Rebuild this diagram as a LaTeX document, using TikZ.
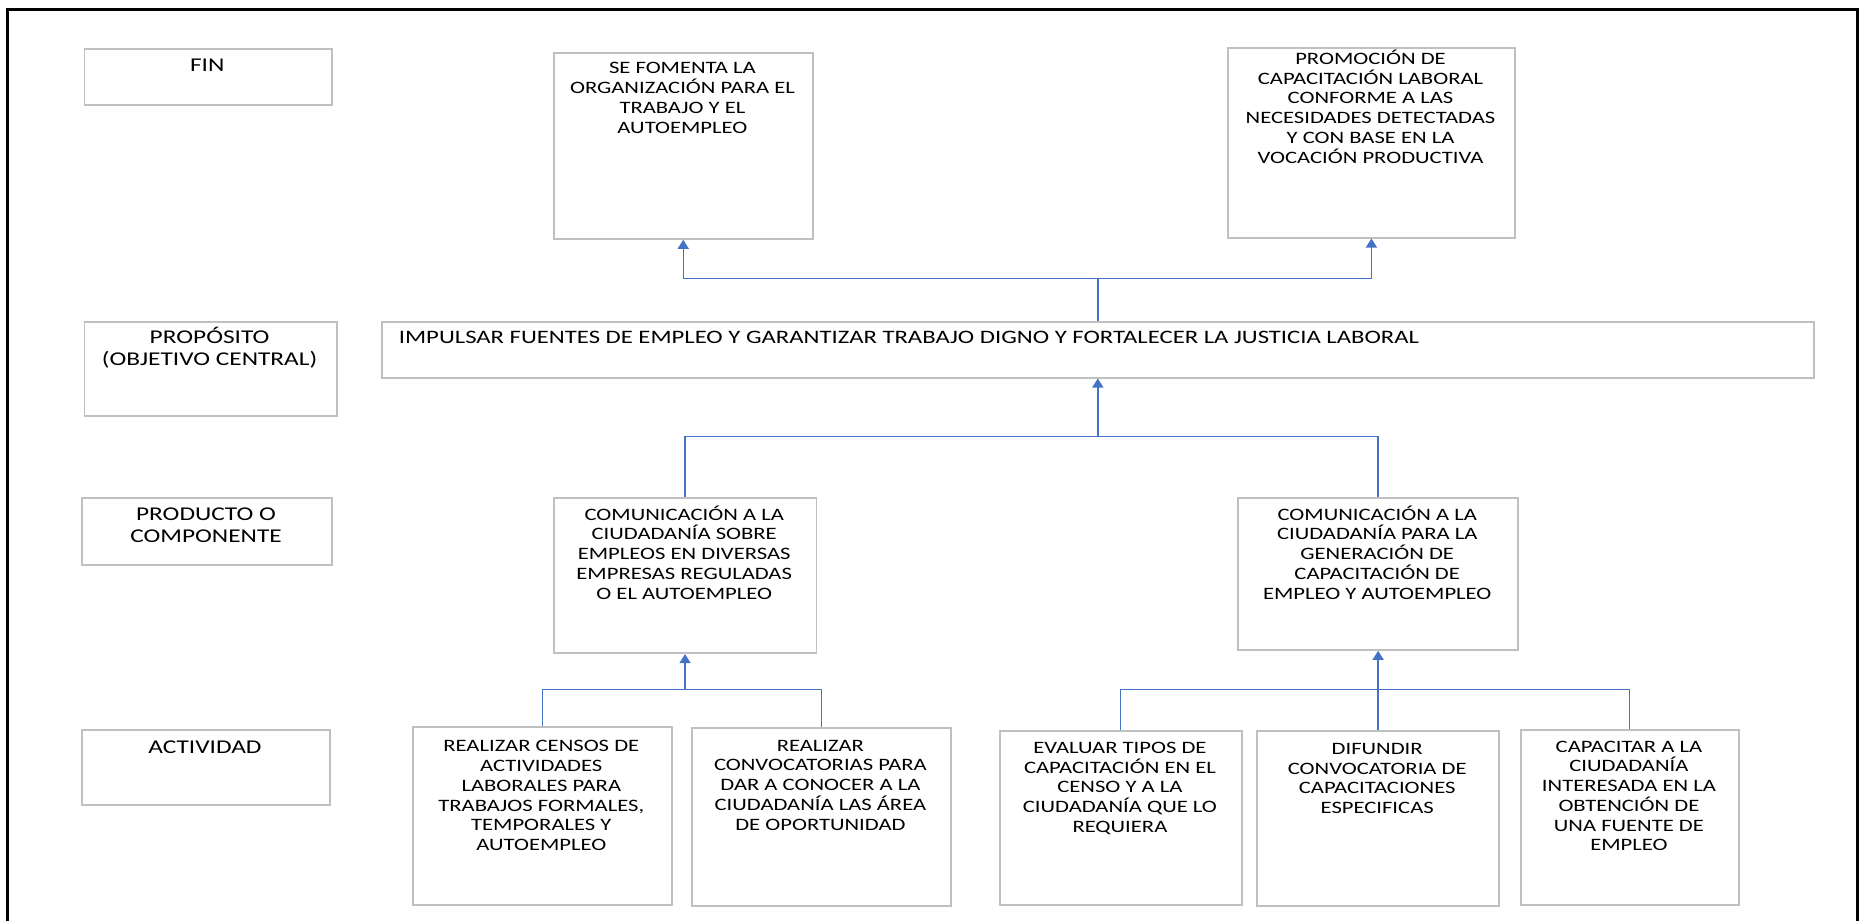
\documentclass[tikz,border=0pt]{standalone}
\usepackage{fontspec}
\setmainfont[FakeStretch=1.3]{Carlito}
\usetikzlibrary{arrows.meta}
\definecolor{boxgray}{RGB}{192,192,192}
\definecolor{connblue}{RGB}{68,114,196}
\newcommand{\fl}{\rule{0pt}{1em}}
\begin{document}
\begin{tikzpicture}[x=1pt,y=-1pt,
  box/.style={draw=boxgray, line width=1.8pt, fill=white, anchor=north west, inner sep=0pt},
  txt/.style={anchor=north, inner sep=0pt, align=center, font=\fontsize{17.4}{19.7}\selectfont},
  lab/.style={anchor=north, inner sep=0pt, align=center, font=\fontsize{19.5}{22}\selectfont},
  conn/.style={draw=connblue, line width=1.4pt},
  arr/.style={conn, -{Triangle[length=9pt,width=11pt]}}]
\useasboundingbox (0,0) rectangle (1862,921);
% frame
\draw[line width=3pt] (7.5,921) -- (7.5,9) -- (1857.5,9) -- (1857.5,921);
% label boxes
\node[box, minimum width=247.3pt, minimum height=56pt] (fin) at (83.5,48.3) {};
\node[box, minimum width=252.2pt, minimum height=94.6pt] (prop) at (83.5,320.7) {};
\node[box, minimum width=250pt, minimum height=67.3pt] (prod) at (81,496.7) {};
\node[box, minimum width=248pt, minimum height=75pt] (act) at (81,729.3) {};
% content boxes
\node[box, minimum width=259.3pt, minimum height=186.3pt] (fom) at (552.7,51.7) {};
\node[box, minimum width=287pt, minimum height=190pt] (promo) at (1227,46.7) {};
\node[box, minimum width=1432.2pt, minimum height=56pt] (imp) at (380.8,320.7) {};
\node[box, minimum width=262.9pt, minimum height=155.6pt] (com1) at (552.7,496.7) {};
\node[box, minimum width=279.6pt, minimum height=152.3pt] (com2) at (1237.4,496.7) {};
\node[box, minimum width=259.3pt, minimum height=177.7pt] (censos) at (411.7,726) {};
\node[box, minimum width=258.8pt, minimum height=178pt] (convoc) at (691,727.3) {};
\node[box, minimum width=242.3pt, minimum height=173.7pt] (eval) at (998.7,730.3) {};
\node[box, minimum width=242.4pt, minimum height=175pt] (dif) at (1256,730.3) {};
\node[box, minimum width=217.9pt, minimum height=175pt] (capac) at (1519.9,729) {};
% label texts
\node[lab] (tfin) at (207.2,52.1) {\fl FIN};
\node[lab] (tprop) at (209.6,323.8) {\fl PROPÓSITO\\(OBJETIVO CENTRAL)};
\node[lab, font=\fontsize{19.5}{21.7}\selectfont] (tprod) at (206,501.1) {\fl PRODUCTO O\\COMPONENTE};
\node[lab] (tact) at (205,733.5) {\fl ACTIVIDAD};
% content texts
\node[txt, anchor=north west, font=\fontsize{19}{22}\selectfont] (timp) at (398.7,324.5) {\fl IMPULSAR FUENTES DE EMPLEO Y GARANTIZAR TRABAJO DIGNO Y FORTALECER LA JUSTICIA LABORAL};
\node[txt] (tfom) at (682.4,56.3) {\fl SE FOMENTA LA\\ORGANIZACIÓN PARA EL\\TRABAJO Y EL\\AUTOEMPLEO};
\node[txt] (tpromo) at (1370.5,46.9) {\fl PROMOCIÓN DE\\CAPACITACIÓN LABORAL\\CONFORME A LAS\\NECESIDADES DETECTADAS\\Y CON BASE EN LA\\VOCACIÓN PRODUCTIVA};
\node[txt] (tcom1) at (684.2,502.6) {\fl COMUNICACIÓN A LA\\CIUDADANÍA SOBRE\\EMPLEOS EN DIVERSAS\\EMPRESAS REGULADAS\\O EL AUTOEMPLEO};
\node[txt] (tcom2) at (1377.2,502.6) {\fl COMUNICACIÓN A LA\\CIUDADANÍA PARA LA\\GENERACIÓN DE\\CAPACITACIÓN DE\\EMPLEO Y AUTOEMPLEO};
\node[txt] (tcensos) at (541.3,734.3) {\fl REALIZAR CENSOS DE\\ACTIVIDADES\\LABORALES PARA\\TRABAJOS FORMALES,\\TEMPORALES Y\\AUTOEMPLEO};
\node[txt] (tconvoc) at (820.4,733.6) {\fl REALIZAR\\CONVOCATORIAS PARA\\DAR A CONOCER A LA\\CIUDADANÍA LAS ÁREA\\DE OPORTUNIDAD};
\node[txt] (teval) at (1119.9,735.9) {\fl EVALUAR TIPOS DE\\CAPACITACIÓN EN EL\\CENSO Y A LA\\CIUDADANÍA QUE LO\\REQUIERA};
\node[txt] (tdif) at (1377.2,736.9) {\fl DIFUNDIR\\CONVOCATORIA DE\\CAPACITACIONES\\ESPECIFICAS};
\node[txt] (tcapac) at (1628.9,734.6) {\fl CAPACITAR A LA\\CIUDADANÍA\\INTERESADA EN LA\\OBTENCIÓN DE\\UNA FUENTE DE\\EMPLEO};
% junction levels
\coordinate (jtop) at (0,278.5);
\coordinate (jmid) at (0,436.7);
\coordinate (jlow) at (0,689.3);
% connectors
\draw[arr] (imp.north) -- (imp.north |- jtop) -| (fom.south);
\draw[arr] (imp.north |- jtop) -| (promo.south);
\draw[arr] (com1.north) |- (imp.south |- jmid) -- (imp.south);
\draw[conn] (com2.north) |- (imp.south |- jmid);
\draw[arr] (censos.north) |- (com1.south |- jlow) -- (com1.south);
\draw[conn] (convoc.north) |- (com1.south |- jlow);
\draw[arr] (eval.north) |- (com2.south |- jlow) -- (com2.south);
\draw[conn] (dif.north) -- (com2.south |- jlow);
\draw[conn] (capac.north) |- (com2.south |- jlow);
\end{tikzpicture}
\end{document}
